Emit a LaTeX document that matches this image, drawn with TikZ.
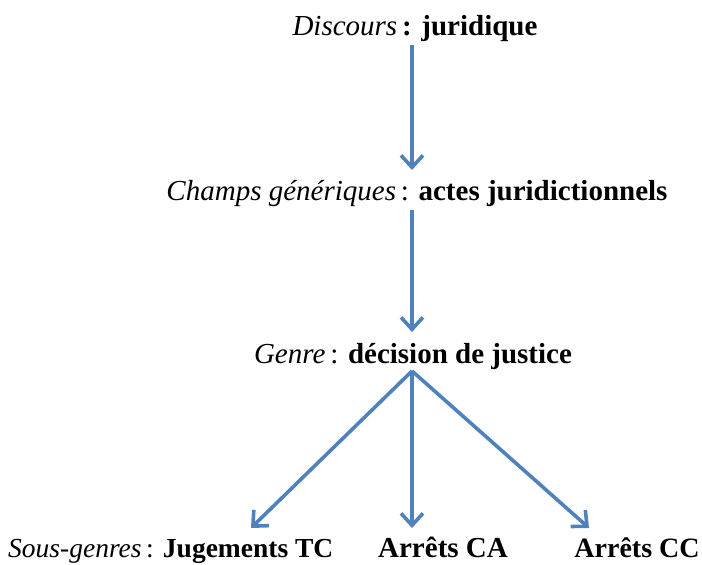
\documentclass[tikz,border=0pt]{standalone}
\usepackage{fontspec}
\setmainfont{Liberation Serif}
\usetikzlibrary{arrows.meta}
\definecolor{arrowblue}{RGB}{79,129,189}
\begin{document}
\begin{tikzpicture}[x=1pt,y=-1pt,
  lbl/.style={inner sep=0pt, anchor=base, font=\fontsize{29}{32}\selectfont},
  arr/.style={draw=arrowblue, line width=3.6pt, -{Straight Barb[length=12pt,width=22pt,line width=3.6pt]}}]
\useasboundingbox (0,0) rectangle (702,565);
\node[lbl] (disc) at (415,35) {\textit{Discours}\,\textbf{: juridique}};
\node[lbl] (champ) at (417,200) {\textit{Champs génériques}\,: \textbf{actes juridictionnels}};
\node[lbl] (genre) at (413,363) {\textit{Genre}\,: \textbf{décision de justice}};
\node[lbl, anchor=base west, font=\fontsize{27.5}{30}\selectfont] (tc) at (8,557) {\textit{Sous-genres}\,: \textbf{Jugements TC}};
\node[lbl] (ca) at (443,557) {\textbf{Arrêts CA}};
\node[lbl, font=\fontsize{28}{31}\selectfont] (cc) at (637,557) {\textbf{Arrêts CC}};
\coordinate (g0) at (412,371);
\draw[arr] (disc.south -| g0) ++(0,4) -- (412,170);
\draw[arr] (champ.south -| g0) ++(0,4) -- (412,332);
\draw[arr] (g0) -- (251,528);
\draw[arr] (g0) -- (412,528);
\draw[arr] (g0) -- (589,528);
\end{tikzpicture}
\end{document}
